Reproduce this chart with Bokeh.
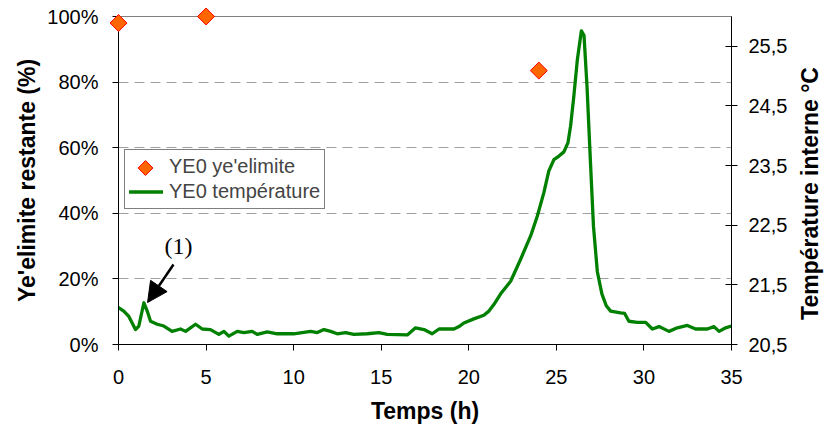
import math
from bokeh.plotting import figure
from bokeh.models import (Range1d, LinearAxis, FixedTicker, NumeralTickFormatter,
                          Legend, LegendItem, Arrow, NormalHead, Label)
from bokeh.embed import file_html
from bokeh.resources import INLINE

# ---- data ----
time_h = [0.0, 0.30, 0.59, 0.97, 1.16, 1.45, 1.64, 1.83, 2.21, 2.59, 3.06, 3.54, 3.83,
          4.40, 4.78, 5.25, 5.73, 6.02, 6.30, 6.78, 7.16, 7.63, 7.92, 8.49, 9.06, 10.0,
          10.97, 11.35, 11.73, 12.11, 12.49, 12.96, 13.44, 14.2, 14.87, 15.34, 16.49,
          16.96, 17.44, 17.91, 18.30, 19.15, 19.44, 19.72, 20.29, 20.86, 21.15, 21.43,
          21.82, 22.39, 22.96, 23.53, 23.91, 24.29, 24.57, 24.86, 25.15, 25.43, 25.66,
          25.81, 26.00, 26.20, 26.43, 26.58, 26.75, 26.94, 27.12, 27.34, 27.60, 27.85,
          28.10, 28.67, 28.90, 29.14, 29.62, 30.10, 30.48, 30.86, 31.43, 31.91, 32.48,
          32.95, 33.62, 34.0, 34.29, 34.67, 35.0]
temp_c = [21.12, 21.06, 20.97, 20.75, 20.81, 21.20, 21.06, 20.89, 20.84, 20.81, 20.72,
          20.76, 20.72, 20.84, 20.76, 20.75, 20.67, 20.72, 20.64, 20.72, 20.70, 20.72,
          20.67, 20.71, 20.68, 20.68, 20.72, 20.70, 20.75, 20.72, 20.68, 20.70, 20.67,
          20.68, 20.70, 20.67, 20.66, 20.78, 20.75, 20.68, 20.76, 20.76, 20.80, 20.86,
          20.93, 20.99, 21.06, 21.17, 21.35, 21.56, 21.93, 22.32, 22.65, 23.05, 23.41,
          23.60, 23.66, 23.73, 23.88, 24.16, 24.67, 25.28, 25.76, 25.68, 24.83, 23.60,
          22.48, 21.72, 21.35, 21.15, 21.06, 21.03, 21.02, 20.89, 20.87, 20.87, 20.76,
          20.80, 20.72, 20.78, 20.82, 20.76, 20.76, 20.80, 20.72, 20.78, 20.81]

sample_time_h = [0, 5, 24]
yeelimite_remaining = [0.98, 1.00, 0.835]

x_ticks = [0, 5, 10, 15, 20, 25, 30, 35]
left_ticks = [0, 0.2, 0.4, 0.6, 0.8, 1.0]
right_ticks = [20.5, 21.5, 22.5, 23.5, 24.5, 25.5]
right_tick_labels = ["20,5", "21,5", "22,5", "23,5", "24,5", "25,5"]

series_names = ["YE0 ye'elimite", "YE0 température"]
x_title = "Temps (h)"
left_title = "Ye'elimite restante (%)"
right_title = "Température interne °C"
annot_text = "(1)"
annot_text_pos = (3.43, 0.30)
annot_arrow_start = (3.14, 0.244)
annot_arrow_end = (1.66, 0.128)

FONT = "Liberation Sans"
W, H = 824, 428
BL, BR, BT, BB = 118, 93, 16, 84
X0, X1 = 0, 35
Y0, Y1 = 0, 1.0
frame_w = W - BL - BR
frame_h = H - BT - BB
px_per_x = frame_w / (X1 - X0)
px_per_y = frame_h / (Y1 - Y0)

# legend layout (screen px, relative to frame's bottom-left)
LEG_X, LEG_Y, LEG_PAD, LEG_ROW, LEG_GW = 6, 135, 4, 25, 34

p = figure(width=W, height=H, output_backend="svg", toolbar_location=None,
           x_range=Range1d(X0, X1), y_range=Range1d(Y0, Y1),
           min_border_left=BL, min_border_right=BR, min_border_top=BT, min_border_bottom=BB)
p.extra_y_ranges = {"temp": Range1d(20.5, 26.0)}

p.outline_line_color = "#808080"
p.outline_line_width = 1
p.background_fill_color = "white"
p.border_fill_color = "white"

p.xgrid.visible = False
p.ygrid.ticker = FixedTicker(ticks=left_ticks)
p.ygrid.grid_line_color = "#a0a0a0"
p.ygrid.grid_line_dash = "10 6"
p.ygrid.grid_line_width = 1

raxis = LinearAxis(y_range_name="temp")
p.add_layout(raxis, "right")

xaxis = p.xaxis[0]
yaxis = p.yaxis[0]

xaxis.ticker = FixedTicker(ticks=x_ticks)
yaxis.ticker = FixedTicker(ticks=left_ticks)
yaxis.formatter = NumeralTickFormatter(format="0%")
raxis.ticker = FixedTicker(ticks=right_ticks)
raxis.major_label_overrides = {t: l for t, l in zip(right_ticks, right_tick_labels)}

xaxis.axis_label = x_title
yaxis.axis_label = left_title

for ax in (xaxis, yaxis, raxis):
    ax.axis_line_color = "black"
    ax.axis_line_width = 1
    ax.major_tick_line_color = "black"
    ax.major_tick_line_width = 1
    ax.minor_tick_line_color = None
    ax.major_label_text_font = FONT
    ax.major_label_text_font_size = "20px"
    ax.major_label_text_color = "black"
    ax.axis_label_text_font = FONT
    ax.axis_label_text_font_size = "23px"
    ax.axis_label_text_font_style = "bold"
    ax.axis_label_text_color = "black"

xaxis.major_tick_in = 0
xaxis.major_tick_out = 6
xaxis.major_label_standoff = 19
xaxis.axis_label_standoff = 11
yaxis.major_tick_in = 0
yaxis.major_tick_out = 6
yaxis.major_label_standoff = 14
yaxis.axis_label_standoff = 4
raxis.major_tick_in = 6
raxis.major_tick_out = 6
raxis.major_label_standoff = 11

MARKER_STYLE = dict(marker="square", angle=math.pi / 4, fill_color="#FF6600",
                    line_color="#FF0000", line_width=1, level="overlay")

ln = p.line(time_h, temp_c, y_range_name="temp", line_color="#008000",
            line_width=3.3, line_join="round", line_cap="round")
sc = p.scatter(sample_time_h, yeelimite_remaining, size=12, **MARKER_STYLE)

# legend key for the point series: an empty renderer (label only) with a
# diamond swatch drawn at the key position (legend box is transparent)
sc_key = p.scatter(x=[], y=[], marker="square", size=1, fill_color="#FF6600",
                   line_color="#FF0000")
swatch_x = X0 + (LEG_X + LEG_PAD + LEG_GW / 2) / px_per_x
swatch_y = Y0 + (LEG_Y + LEG_PAD + LEG_ROW * 1.5) / px_per_y
p.scatter(x=[swatch_x], y=[swatch_y], size=10.5, **MARKER_STYLE)

legend = Legend(items=[LegendItem(label=series_names[0], renderers=[sc_key]),
                       LegendItem(label=series_names[1], renderers=[ln])],
                location=(LEG_X, LEG_Y), margin=0, padding=LEG_PAD, spacing=0,
                glyph_width=LEG_GW, glyph_height=LEG_ROW, label_height=LEG_ROW,
                label_standoff=6,
                label_text_font=FONT, label_text_font_size="20px",
                border_line_color="black", border_line_width=1,
                background_fill_color="white", background_fill_alpha=0)
p.add_layout(legend)

p.add_layout(Arrow(x_start=annot_arrow_start[0], y_start=annot_arrow_start[1],
                   x_end=annot_arrow_end[0], y_end=annot_arrow_end[1],
                   line_color="black", line_width=2.5,
                   end=NormalHead(size=20, fill_color="black", line_color="black")))
p.add_layout(Label(x=annot_text_pos[0], y=annot_text_pos[1], text=annot_text,
                   text_font="Liberation Serif", text_font_size="24px",
                   text_align="center", text_baseline="middle", text_color="black"))

# right axis title (reads bottom-to-top), drawn as an unclipped overlay text
title_x = X1 + 78 / px_per_x
title_y = Y0 + 151 / px_per_y
p.text(x=[title_x], y=[title_y], text=[right_title], angle=math.pi / 2,
       text_font={"value": FONT}, text_font_size={"value": "23px"},
       text_font_style="bold", text_align="center", text_baseline="middle",
       text_color="black", level="overlay")

open("out.html", "w").write(file_html(p, INLINE))
